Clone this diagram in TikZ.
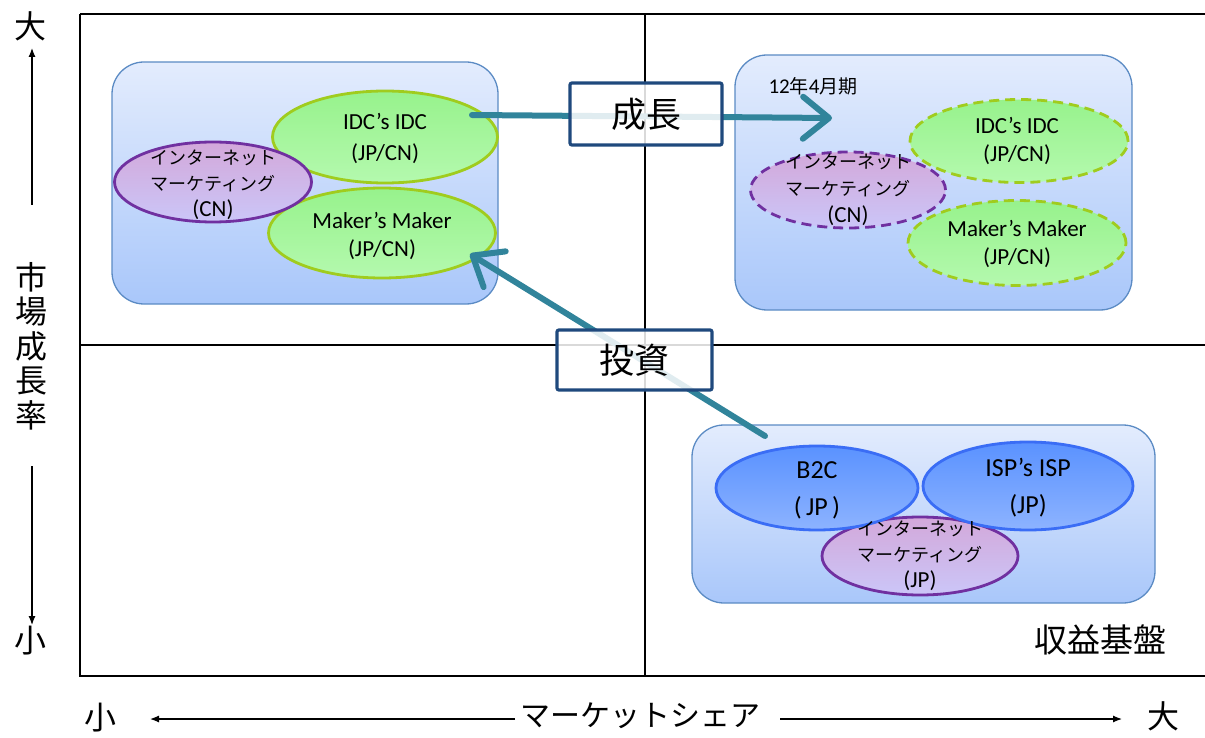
\documentclass[tikz,border=0pt]{standalone}
\usepackage{fontspec}
\setmainfont{Carlito}
\newfontfamily\jp{Noto Sans CJK JP}
\usetikzlibrary{arrows.meta,shapes.geometric}
\definecolor{boxborder}{HTML}{5B8BC4}
\definecolor{boxtop}{HTML}{E3ECFD}
\definecolor{boxbot}{HTML}{A9C7FA}
\definecolor{grntop}{HTML}{97F28C}
\definecolor{grnbot}{HTML}{B4F9AE}
\definecolor{grnline}{HTML}{A0CC1E}
\definecolor{purtop}{HTML}{D3A8DA}
\definecolor{purbot}{HTML}{CBC6F8}
\definecolor{purline}{HTML}{7030A0}
\definecolor{blutop}{HTML}{5A92FF}
\definecolor{blubot}{HTML}{8DB3FF}
\definecolor{bluline}{HTML}{3A6DF5}
\definecolor{tealc}{HTML}{31849B}
\definecolor{navy}{HTML}{1F497D}
\tikzset{
  quad/.style={draw=boxborder, line width=1.3pt, rounded corners=32pt, top color=boxtop, bottom color=boxbot},
  grn/.style={ellipse, draw=grnline, line width=2.8pt, top color=grntop, bottom color=grnbot, inner sep=0pt},
  pur/.style={ellipse, draw=purline, line width=2.8pt, top color=purtop, bottom color=purbot, inner sep=0pt},
  blu/.style={ellipse, draw=bluline, line width=2.8pt, top color=blutop, bottom color=blubot, inner sep=0pt},
  dsh/.style={dash pattern=on 10pt off 6pt},
  lat/.style={align=center, font=\fontsize{23}{31}\selectfont},
  jpt/.style={align=center, font=\jp\fontsize{18}{26}\selectfont},
  bigarrow/.style={draw=tealc, line width=6pt, line cap=round, -{Straight Barb[length=26pt,width=42pt,line width=6pt,round]}},
  tag/.style={draw=navy, line width=3.2pt, rounded corners=2pt, fill=white, fill opacity=0.85, text opacity=1, inner sep=0pt, font=\jp\fontsize{35}{35}\selectfont},
  axl/.style={font=\jp\fontsize{32}{34.5}\selectfont, align=center},
  axarrow/.style={line width=1.2pt, -{Latex[length=9pt,width=7pt]}}
}
\begin{document}
\begin{tikzpicture}[x=1pt, y=-1pt]
\useasboundingbox (0,0) rectangle (1205,738);
% frame
\draw[line width=1.6pt] (80,14) -- (1205,14);
\draw[line width=1.6pt] (80,14) -- (80,676) -- (1205,676);
\draw[line width=2pt] (645,14) -- (645,676);
\draw[line width=1.6pt] (80,345) -- (1205,345);
% quadrant boxes
\node[quad, minimum width=386pt, minimum height=242pt] (tl) at (305,183) {};
\node[quad, minimum width=397pt, minimum height=255pt] (tr) at (933.5,182.5) {};
\node[quad, minimum width=463pt, minimum height=178pt] (br) at (923.5,514) {};
% top-left ellipses
\node[grn, minimum width=225pt, minimum height=92pt] (idcL) at (385,137) {};
\node[grn, minimum width=227pt, minimum height=90pt] (makL) at (382,233) {};
\node[pur, minimum width=197pt, minimum height=80pt] (inetL) at (213,182) {};
\node[lat] (tIdcL) at (385,138) {IDC’s IDC\\(JP/CN)};
\node[lat, font=\fontsize{23}{28}\selectfont] (tMakL) at (382,236) {Maker’s Maker\\(JP/CN)};
\node[jpt] (tInetL) at (213,185) {インターネット\\マーケティング\\{\rmfamily\fontsize{23}{26}\selectfont (CN)}};
% top-right ellipses (dashed)
\node[pur, dsh, minimum width=195pt, minimum height=76pt] (inetR) at (848,190) {};
\node[grn, dsh, minimum width=218pt, minimum height=83pt] (idcR) at (1019,141) {};
\node[grn, dsh, minimum width=218pt, minimum height=85pt] (makR) at (1017,243) {};
\node[lat, font=\fontsize{23}{28}\selectfont] (tIdcR) at (1017,141) {IDC’s IDC\\(JP/CN)};
\node[lat, font=\fontsize{23}{28}\selectfont] (tMakR) at (1017,244) {Maker’s Maker\\(JP/CN)};
\node[jpt, font=\jp\fontsize{18}{27}\selectfont] (tInetR) at (848,190) {インターネット\\マーケティング\\{\rmfamily\fontsize{23}{26}\selectfont (CN)}};
\node[font=\fontsize{21}{21}\selectfont] (period) at (813,86) {12{\jp\fontsize{19}{19}\selectfont 年}4{\jp\fontsize{19}{19}\selectfont 月期}};
% bottom-right ellipses
\node[pur, minimum width=196pt, minimum height=78pt] (inetB) at (920,556) {};
\node[blu, minimum width=202pt, minimum height=84pt] (b2c) at (817,488) {};
\node[blu, minimum width=210pt, minimum height=88pt] (isp) at (1028,486) {};
\node[lat, font=\fontsize{26}{37}\selectfont] (tB2c) at (817,490) {B2C\\(\,JP\,)};
\node[lat, font=\fontsize{26}{37}\selectfont] (tIsp) at (1028,488) {ISP’s ISP\\(JP)};
\node[jpt] (tInetB) at (920,556) {インターネット\\マーケティング\\{\rmfamily\fontsize{23}{26}\selectfont (JP)}};
\node[font=\jp\fontsize{33}{33}\selectfont] (base) at (1100,640) {収益基盤};
% arrows
\coordinate (growS) at (472,115);
\coordinate (growE) at (832,118);
\coordinate (invS) at (765,436);
\coordinate (invE) at (470,254);
\draw[bigarrow] (growS) -- (growE);
\draw[bigarrow] (invS) -- (invE);
% tags
\node[tag, minimum width=152pt, minimum height=62pt] (seicho) at (646,114) {成長};
\node[tag, minimum width=155pt, minimum height=60pt] (toshi) at (634.5,360) {投資};
% left axis
\node[axl] (yBig) at (30,26) {大};
\node[axl] (ySmall) at (30,641) {小};
\node[axl] (yLab) at (32,346) {市\\場\\成\\長\\率};
\coordinate (yUp1) at (32,205);
\coordinate (yUp2) at (32,48);
\coordinate (yDn1) at (32,466);
\coordinate (yDn2) at (32,625);
\draw[axarrow] (yUp1) -- (yUp2);
\draw[axarrow] (yDn1) -- (yDn2);
% bottom axis
\node[axl] (xSmall) at (100,718) {小};
\node[axl] (xBig) at (1163,716) {大};
\node[axl, font=\jp\fontsize{30}{30}\selectfont] (xLab) at (640,716) {マーケットシェア};
\coordinate (xL1) at (515,719);
\coordinate (xL2) at (150,719);
\coordinate (xR1) at (780,719);
\coordinate (xR2) at (1122,719);
\draw[axarrow] (xL1) -- (xL2);
\draw[axarrow] (xR1) -- (xR2);
\end{tikzpicture}
\end{document}
